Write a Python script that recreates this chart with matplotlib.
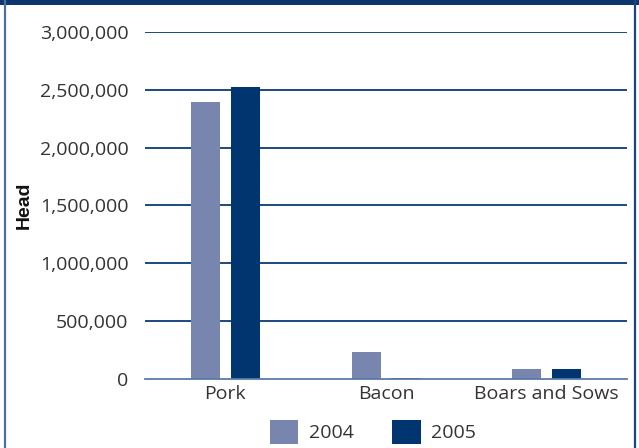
import matplotlib
matplotlib.use("Agg")
import matplotlib.pyplot as plt
from matplotlib.patches import Rectangle
from matplotlib.lines import Line2D
import numpy as np

categories = ["Pork", "Bacon", "Boars and Sows"]
years = ["2004", "2005"]
head_2004 = [2395000, 233000, 86000]
head_2005 = [2524000, 6000, 86000]
yticks = [0, 500000, 1000000, 1500000, 2000000, 2500000, 3000000]

c2004 = "#7885ae"
c2005 = "#00356f"
navy = "#0a3a72"
txt = "#333333"

W, H = 639, 448
fig = plt.figure(figsize=(W / 100, H / 100), dpi=100)
fig.patch.set_facecolor("white")

# frame: dark band on top, thin borders on the sides
fig.add_artist(Rectangle((0, 1 - 5 / H), 1, 5 / H, transform=fig.transFigure,
                         facecolor="#0d3670", edgecolor="none", zorder=0))
fig.add_artist(Line2D([4.5 / W, 4.5 / W], [0, 1], transform=fig.transFigure,
                      color="#4a6fa3", lw=1.6))
fig.add_artist(Line2D([635 / W, 635 / W], [0, 1], transform=fig.transFigure,
                      color="#1a4680", lw=1.6))

ax = fig.add_axes([145 / W, (H - 379) / H, (627 - 145) / W, (379 - 32) / H])
x = np.arange(len(categories))
bw = 0.18
off = 0.124
ax.bar(x - off, head_2004, bw, color=c2004, zorder=2, label=years[0])
ax.bar(x + off, head_2005, bw, color=c2005, zorder=2, label=years[1])

ax.set_xlim(-0.5, 2.5)
ax.set_ylim(0, 3000000)
ax.set_yticks(yticks)
ax.set_yticklabels([f"{v:,}" for v in yticks])
ax.set_xticks(x)
ax.set_xticklabels(categories)

for v in yticks[1:]:
    ax.axhline(v, color=navy, lw=1.3, zorder=1)
for s in ["top", "right", "left"]:
    ax.spines[s].set_visible(False)
ax.spines["bottom"].set_color("#5a7aab")
ax.spines["bottom"].set_linewidth(1.3)
ax.spines["bottom"].set_zorder(3)

ax.tick_params(axis="y", length=0, pad=12, labelsize=14, labelcolor=txt)
ax.tick_params(axis="x", length=0, pad=4, labelsize=14, labelcolor=txt)
for lab in ax.get_xticklabels() + ax.get_yticklabels():
    lab.set_fontfamily("Open Sans")

ax.set_ylabel("Head", fontsize=14, fontweight="bold", family="Liberation Sans",
              color="#111111")
ax.yaxis.set_label_coords(-0.232, 0.5)

leg = fig.legend(loc="center", bbox_to_anchor=(373 / W, (H - 432) / H), ncol=2,
                 frameon=False, prop={"family": "Open Sans", "size": 14},
                 handlelength=1.45, handleheight=1.45, handletextpad=0.55,
                 columnspacing=2.0)
for t in leg.get_texts():
    t.set_color(txt)

fig.savefig("out.png", dpi=100)
